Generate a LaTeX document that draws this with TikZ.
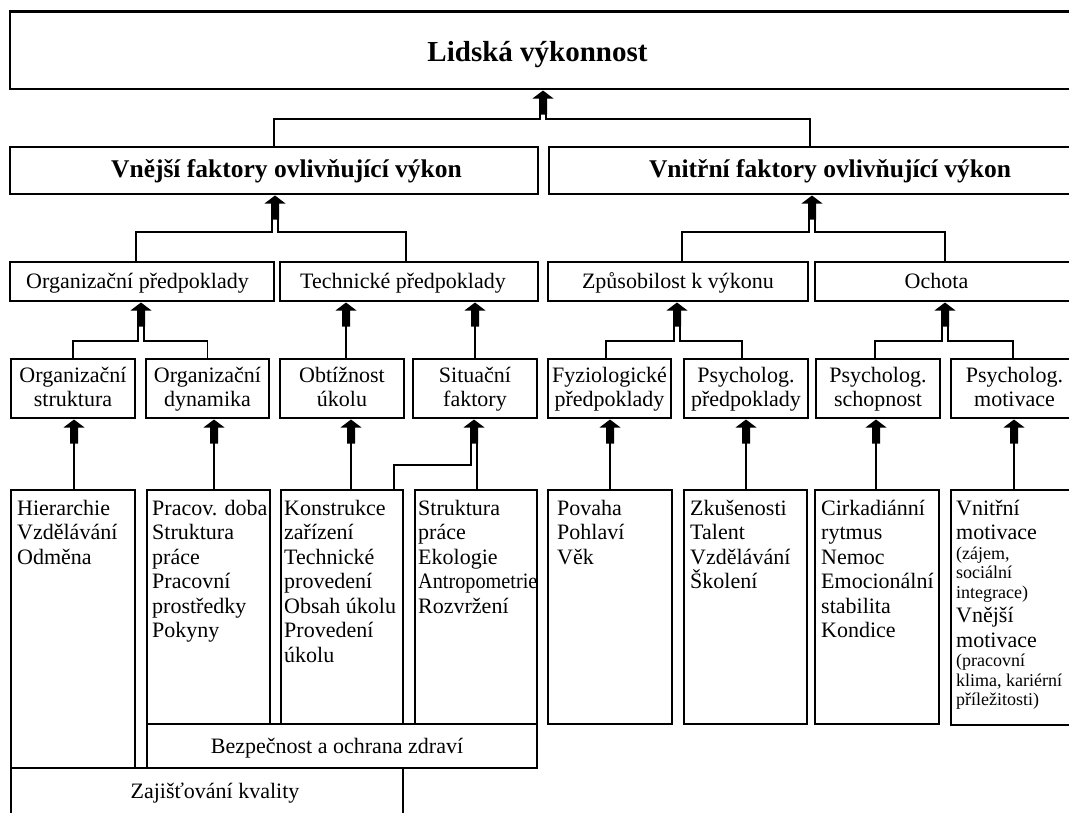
\documentclass[tikz,border=0pt]{standalone}
\usepackage{fontspec}
\setmainfont{Liberation Serif}
\usetikzlibrary{calc}
\newcommand{\sst}{\rule[-5.5pt]{0pt}{22.5pt}}
\begin{document}
\begin{tikzpicture}[x=1pt,y=-1pt,
  bx/.style={draw, line width=2.6pt, inner sep=0pt, outer sep=0pt, rectangle},
  conn/.style={line width=1.3pt},
  ttl/.style={font=\fontsize{29}{32}\selectfont\bfseries, inner sep=0pt},
  hd/.style={font=\fontsize{25.5}{28}\selectfont\bfseries, inner sep=0pt},
  lab/.style={font=\fontsize{22}{24.5}\selectfont, inner sep=0pt},
  labc/.style={font=\fontsize{22}{24.5}\selectfont, align=center},
  lst/.style={font=\fontsize{22}{24.5}\selectfont, align=flush left, inner sep=0pt,
    anchor=north west, text width=160pt, execute at begin node={\parindent=0pt}},
  barrow/.pic={\fill[black] (0,0) -- (10.5,8) -- (4,8) -- (4,24) -- (-4,24) -- (-4,8) -- (-10.5,8) -- cycle;}]
\useasboundingbox (0,0) rectangle (1069,812);
\fill[white] (0,0) rectangle (1069,812);
\clip (0,0) rectangle (1069,812);

% level 1
\node[bx, minimum width=1070pt, minimum height=77.5pt] (topb) at (545,50.25) {};
\node[ttl, anchor=base] (tt) at (537.5,61) {Lidská výkonnost};

% level 2
\node[bx, minimum width=528pt, minimum height=47pt] (vnejsib) at (274,170.5) {};
\node[bx, minimum width=531pt, minimum height=47pt] (vnitrnib) at (814.5,170.5) {};
\node[hd, anchor=base] (vnejsit) at (286.5,177) {Vnější faktory ovlivňující výkon};
\node[hd, anchor=base] (vnitrnit) at (830,177) {Vnitřní faktory ovlivňující výkon};

% level 3
\node[bx, minimum width=264pt, minimum height=39pt] (orgpb) at (142,281.5) {};
\node[bx, minimum width=258pt, minimum height=39pt] (techpb) at (409,281.5) {};
\node[bx, minimum width=260pt, minimum height=39pt] (zpusb) at (678,281.5) {};
\node[bx, minimum width=265pt, minimum height=39pt] (ochb) at (947.5,281.5) {};
\node[lab, anchor=base] (orgpt) at (137.5,288) {Organizační předpoklady};
\node[lab, anchor=base] (techpt) at (403,288) {Technické předpoklady};
\node[lab, anchor=base] (zpust) at (678,288) {Způsobilost k výkonu};
\node[lab, anchor=base] (ocht) at (936.5,288) {Ochota};

% level 4
\node[bx, labc, minimum width=124pt, minimum height=59pt] (orgstr) at (73,388.5) {\sst Organizační\\struktura\sst};
\node[bx, labc, minimum width=123pt, minimum height=59pt] (orgdyn) at (207.5,388.5) {\sst Organizační\\dynamika\sst};
\node[bx, labc, minimum width=124pt, minimum height=59pt] (obtiz) at (342,388.5) {\sst Obtížnost\\úkolu\sst};
\node[bx, labc, minimum width=124pt, minimum height=59pt] (sit) at (475,388.5) {\sst Situační\\faktory\sst};
\node[bx, labc, minimum width=123pt, minimum height=59pt] (fyz) at (609.5,388.5) {\sst Fyziologické\\předpoklady\sst};
\node[bx, labc, minimum width=124pt, minimum height=59pt] (psp) at (746,388.5) {\sst Psycholog.\\předpoklady\sst};
\node[bx, labc, minimum width=124pt, minimum height=59pt] (pss) at (878,388.5) {\sst Psycholog.\\schopnost\sst};
\node[bx, labc, minimum width=127pt, minimum height=59pt] (psm) at (1014.5,388.5) {\sst Psycholog.\\motivace\sst};

% level 5 boxes
\node[bx, minimum width=124pt, minimum height=278pt] (hier) at (73,629) {};
\node[bx, minimum width=123pt, minimum height=234pt] (pracov) at (208.5,607) {};
\node[bx, minimum width=122pt, minimum height=234pt] (konstr) at (342,607) {};
\node[bx, minimum width=122pt, minimum height=234pt] (strukt) at (476,607) {};
\node[bx, minimum width=124pt, minimum height=234pt] (povaha) at (610,607) {};
\node[bx, minimum width=123pt, minimum height=234pt] (zkus) at (745.5,607) {};
\node[bx, minimum width=124pt, minimum height=234pt] (cirk) at (877,607) {};
\node[bx, minimum width=129pt, minimum height=235pt] (vnitr) at (1015.5,607.5) {};
\node[bx, minimum width=390pt, minimum height=44pt] (bezp) at (342,746) {};
\node[bx, minimum width=392pt, minimum height=72pt] (zaj) at (207,804) {};

% level 5 texts
\node[lst] (hiert) at (17,498) {\sst Hierarchie\\Vzdělávání\\Odměna};
\node[lst] (pracovt) at (152,498) {\sst Pracov. doba\\Struktura\\práce\\Pracovní\\prostředky\\Pokyny};
\node[lst] (konstrt) at (284,498) {\sst Konstrukce\\zařízení\\Technické\\provedení\\Obsah úkolu\\Provedení\\úkolu};
\node[lst] (struktt) at (418,498) {\sst Struktura\\práce\\Ekologie\\\scalebox{0.92}[1]{Antropometrie}\\Rozvržení};
\node[lst] (povahat) at (557,498) {\sst Povaha\\Pohlaví\\Věk};
\node[lst] (zkust) at (690,498) {\sst Zkušenosti\\Talent\\Vzdělávání\\Školení};
\node[lst] (cirkt) at (821,498) {\sst Cirkadiánní\\rytmus\\Nemoc\\Emocionální\\stabilita\\Kondice};
\node[lst] (vnitrt) at (956,498) {\sst Vnitřní\\motivace\par
  {\fontsize{18}{19.5}\selectfont (zájem,\\sociální\\integrace)\par}
  Vnější\\motivace\par
  {\fontsize{18}{19.5}\selectfont (pracovní\\klima, kariérní\\příležitosti)\par}};
\node[lab, anchor=base] (bezpt) at (337,753) {Bezpečnost a ochrana zdraví};
\node[lab, anchor=base] (zajt) at (215,798) {Zajišťování kvality};

% arrow tips
\coordinate (a0) at (543,90.5);
\coordinate (a1) at (275,195.5);
\coordinate (a2) at (812,195.5);
\coordinate (a3) at (141,302.5);
\coordinate (a4) at (346,302.5);
\coordinate (a5) at (475,302.5);
\coordinate (a6) at (677,302.5);
\coordinate (a7) at (945,302.5);
\coordinate (b1) at (74,419.5);
\coordinate (b2) at (214,419.5);
\coordinate (b3) at (351,419.5);
\coordinate (b4) at (474,419.5);
\coordinate (b5) at (610,419.5);
\coordinate (b6) at (746,419.5);
\coordinate (b7) at (876,419.5);
\coordinate (b8) at (1014,419.5);
\coordinate (kj) at (394,465);

\foreach \p in {a0,a1,a2,a3,a4,a5,a6,a7,b1,b2,b3,b4,b5,b6,b7,b8}
  \pic at (\p) {barrow};

% joins
\draw[conn] (vnejsib.north) |- ($(a0)+(-3,28.5)$) -- ($(a0)+(-3,23)$);
\draw[conn] ([xshift=-4.5pt]vnitrnib.north) |- ($(a0)+(3,28.5)$) -- ($(a0)+(3,23)$);
\draw[conn] ([xshift=-6pt]orgpb.north) |- ($(a1)+(-3,36.5)$) -- ($(a1)+(-3,23)$);
\draw[conn] ([xshift=-3pt]techpb.north) |- ($(a1)+(3,36.5)$) -- ($(a1)+(3,23)$);
\draw[conn] ([xshift=4pt]zpusb.north) |- ($(a2)+(-3,36.5)$) -- ($(a2)+(-3,23)$);
\draw[conn] ([xshift=-2.5pt]ochb.north) |- ($(a2)+(3,36.5)$) -- ($(a2)+(3,23)$);
\draw[conn] (orgstr.north) |- ($(a3)+(-3,38.5)$) -- ($(a3)+(-3,23)$);
\draw[conn] (orgdyn.north) |- ($(a3)+(3,38.5)$) -- ($(a3)+(3,23)$);
\draw[conn] ($(a4)+(0,23)$) -- (a4 |- obtiz.north);
\draw[conn] ($(a5)+(0,23)$) -- (a5 |- sit.north);
\draw[conn] ([xshift=-3.5pt]fyz.north) |- ($(a6)+(-3,38.5)$) -- ($(a6)+(-3,23)$);
\draw[conn] ([xshift=-4pt]psp.north) |- ($(a6)+(3,38.5)$) -- ($(a6)+(3,23)$);
\draw[conn] ([xshift=-3pt]pss.north) |- ($(a7)+(-3,38.5)$) -- ($(a7)+(-3,23)$);
\draw[conn] ([xshift=-1.5pt]psm.north) |- ($(a7)+(3,38.5)$) -- ($(a7)+(3,23)$);

% level 4 to 5
\draw[conn] ($(b1)+(0,23)$) -- (b1 |- hier.north);
\draw[conn] ($(b2)+(0,23)$) -- (b2 |- pracov.north);
\draw[conn] ($(b3)+(0,23)$) -- (b3 |- konstr.north);
\draw[conn] ($(b4)+(3,23)$) -- ($(b4 |- strukt.north)+(3,0)$);
\draw[conn] ($(b4)+(-3,23)$) |- (kj) -- (kj |- konstr.north);
\draw[conn] ($(b5)+(0,23)$) -- (b5 |- povaha.north);
\draw[conn] ($(b6)+(0,23)$) -- (b6 |- zkus.north);
\draw[conn] ($(b7)+(0,23)$) -- (b7 |- cirk.north);
\draw[conn] ($(b8)+(0,23)$) -- (b8 |- vnitr.north);
\end{tikzpicture}
\end{document}
